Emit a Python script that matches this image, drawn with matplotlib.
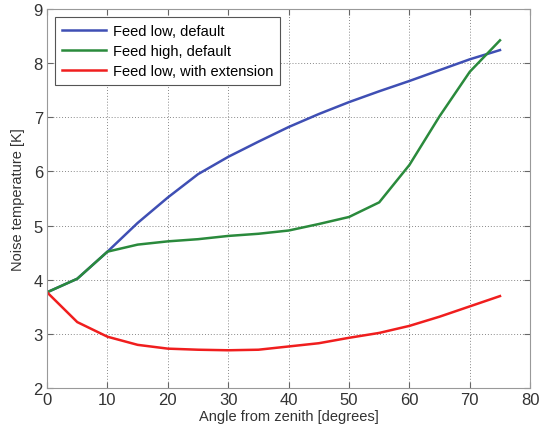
import numpy as np
import matplotlib.pyplot as plt

plt.rcParams['font.family'] = ['Liberation Sans', 'DejaVu Sans']

# --- Data ---
angle = [0, 5, 10, 15, 20, 25, 30, 35, 40, 45, 50, 55, 60, 65, 70, 75]
feed_low_default = [3.77, 4.02, 4.52, 5.05, 5.52, 5.95, 6.27, 6.55, 6.82, 7.06, 7.28, 7.48, 7.67, 7.87, 8.07, 8.24]
feed_high_default = [3.77, 4.02, 4.52, 4.65, 4.71, 4.75, 4.81, 4.85, 4.91, 5.03, 5.16, 5.43, 6.12, 7.02, 7.84, 8.42]
feed_low_ext = [3.77, 3.22, 2.95, 2.80, 2.73, 2.71, 2.70, 2.71, 2.77, 2.83, 2.93, 3.02, 3.15, 3.32, 3.51, 3.70]

labels = ['Feed low, default', 'Feed high, default', 'Feed low, with extension']
colors = ['#3f4fb4', '#2a8a3c', '#f01e1e']

fig = plt.figure(figsize=(5.41, 4.31), dpi=100)
ax = fig.add_axes([0.087, 0.097, 0.893, 0.88])

for y, lab, c in zip([feed_low_default, feed_high_default, feed_low_ext], labels, colors):
    ax.plot(angle, y, color=c, lw=1.8, label=lab)

ax.set_xlim(0, 80)
ax.set_ylim(2, 9)
ax.set_xticks(np.arange(0, 81, 10))
ax.set_yticks(np.arange(2, 10, 1))
ax.grid(True, color='#888888', linestyle=(0, (1, 2)), lw=0.7)
ax.tick_params(direction='in', top=True, right=True, labelsize=12, length=4,
               color='#666666', labelcolor='#333333', pad=3)
for s in ax.spines.values():
    s.set_color('#999999')

ax.set_xlabel('Angle from zenith [degrees]', fontsize=10.5, color='#333333', labelpad=1)
ax.set_ylabel('Noise temperature [K]', fontsize=10.5, color='#333333', labelpad=6)

leg = ax.legend(loc='upper left', fontsize=10.5, fancybox=False, framealpha=1,
                edgecolor='#555555', handlelength=3.0, handletextpad=0.45,
                borderaxespad=0.55, labelspacing=0.4, borderpad=0.5)
leg.get_frame().set_linewidth(0.8)

fig.savefig('out.png', dpi=100)
